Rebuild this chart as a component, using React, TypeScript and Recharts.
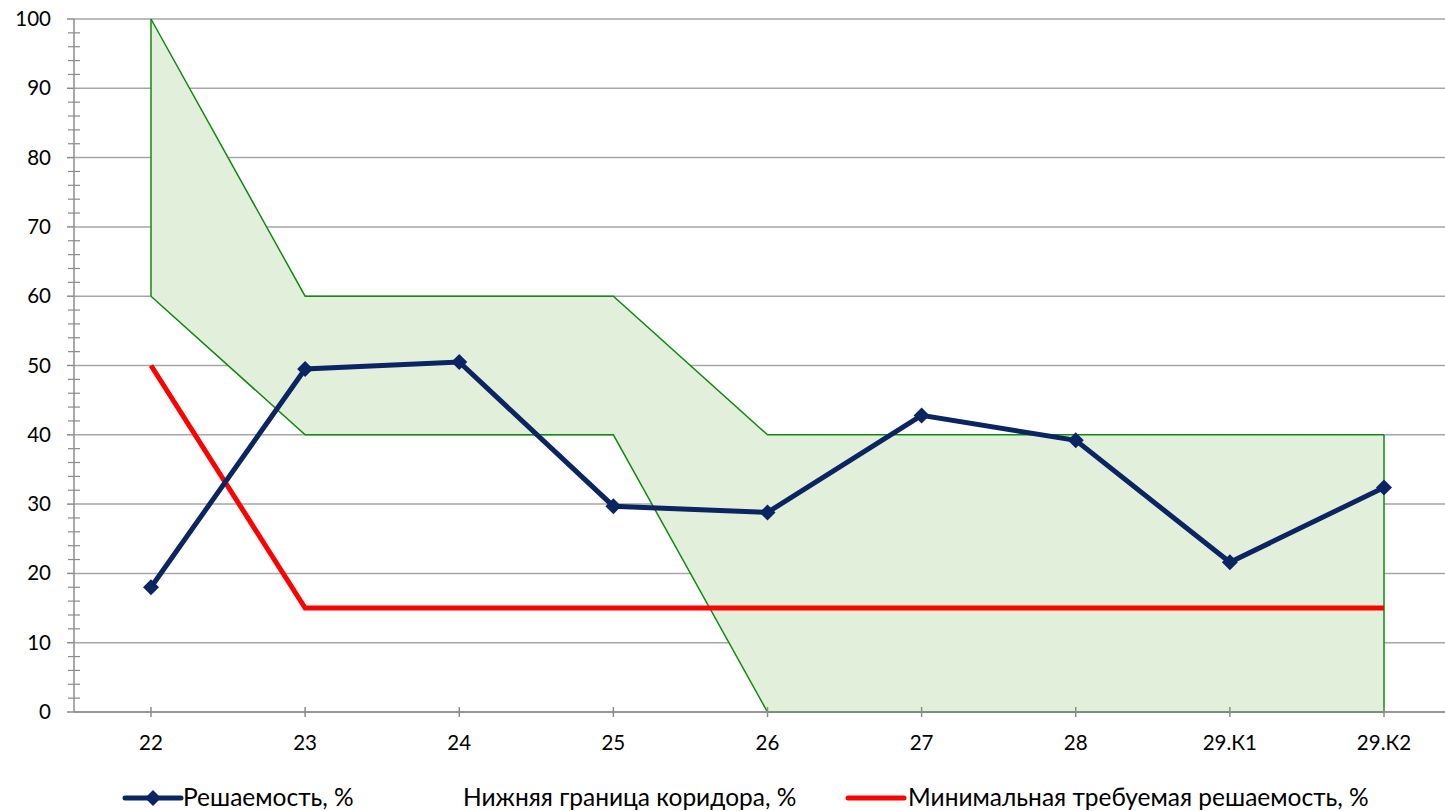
import {
  ComposedChart,
  Area,
  Line,
  XAxis,
  YAxis,
  CartesianGrid,
  ReferenceLine,
} from "recharts";

const categories = ["22", "23", "24", "25", "26", "27", "28", "29.К1", "29.К2"];
const solvedPct = [18.0, 49.5, 50.5, 29.7, 28.8, 42.8, 39.2, 21.6, 32.4];
const corridorLow = [60, 40, 40, 40, 0, 0, 0, 0, 0];
const corridorHigh = [100, 60, 60, 60, 40, 40, 40, 40, 40];
const minRequired = [50, 15, 15, 15, 15, 15, 15, 15, 15];
const majorTicks = [0, 10, 20, 30, 40, 50, 60, 70, 80, 90, 100];
const minorTicks = Array.from({ length: 51 }, (_, i) => i * 2);

const NAVY = "#0b2462";
const RED = "#ff0000";
const GREEN = "#118a11";
const FILL = "#e2efda";
const AXIS = "#8c8c8c";
const FONT = "Lato, 'Noto Sans', sans-serif";

const data = categories.map((name, i) => ({
  name,
  solved: solvedPct[i],
  low: corridorLow[i],
  high: corridorHigh[i],
  min: minRequired[i],
}));

const Diamond = ({ cx, cy }: { cx?: number; cy?: number }) => {
  if (cx == null || cy == null) return null;
  const r = 8;
  return <polygon points={`${cx},${cy - r} ${cx + r},${cy} ${cx},${cy + r} ${cx - r},${cy}`} fill={NAVY} />;
};

const YTick = ({ x = 0, y = 0, payload }: { x?: number; y?: number; payload?: { value: number } }) => {
  const v = payload?.value ?? 0;
  if (v % 10 === 0) {
    return (
      <g>
        <line x1={x - 7} x2={x} y1={y} y2={y} stroke={AXIS} strokeWidth={1.5} />
        <text x={x - 23} y={y + 7} textAnchor="end" fontSize={20.5} fontFamily={FONT} fill="#000">
          {v}
        </text>
      </g>
    );
  }
  return <line x1={x - 6} x2={x + 6} y1={y} y2={y} stroke={AXIS} strokeWidth={1.2} />;
};

const XTick = ({ x = 0, y = 0, payload }: { x?: number; y?: number; payload?: { value: string } }) => (
  <g>
    <line x1={x} x2={x} y1={y - 5} y2={y + 5} stroke={AXIS} strokeWidth={1.5} />
    <text x={x} y={y + 38} textAnchor="middle" fontSize={20.5} fontFamily={FONT} fill="#000">
      {payload?.value}
    </text>
  </g>
);

const legendText = { position: "absolute" as const, top: 782, fontSize: 24.5, fontFamily: FONT, color: "#000", whiteSpace: "nowrap" as const, lineHeight: "30px" };

const ChartLegend = () => (
  <>
    <svg style={{ position: "absolute", left: 120, top: 788 }} width={66} height={20}>
      <line x1={5} x2={61} y1={10} y2={10} stroke={NAVY} strokeWidth={5} strokeLinecap="round" />
      <polygon points="33,2 41,10 33,18 25,10" fill={NAVY} />
    </svg>
    <span style={{ ...legendText, left: 183 }}>Решаемость, %</span>
    <span style={{ ...legendText, left: 463 }}>Нижняя граница коридора, %</span>
    <svg style={{ position: "absolute", left: 843, top: 788 }} width={66} height={20}>
      <line x1={5} x2={61} y1={10} y2={10} stroke={RED} strokeWidth={5} strokeLinecap="round" />
    </svg>
    <span style={{ ...legendText, left: 908 }}>Минимальная требуемая решаемость, %</span>
  </>
);

export default function App() {
  const first = data[0];
  const last = data[data.length - 1];
  return (
    <div style={{ position: "fixed", left: 0, top: 0, width: 1445, height: 811, overflow: "hidden", background: "#fff" }}>
      <ComposedChart width={1470} height={811} data={data} margin={{ top: 19, right: 9, bottom: 0, left: 0 }}>
        <CartesianGrid vertical={false} horizontalValues={majorTicks} stroke="#a6a6a6" strokeWidth={1.5} />
        <Area
          type="linear"
          dataKey={(d: { low: number; high: number }) => [d.low, d.high]}
          stroke={GREEN}
          strokeWidth={1.5}
          fill={FILL}
          fillOpacity={1}
          isAnimationActive={false}
          activeDot={false}
        />
        <ReferenceLine segment={[{ x: first.name, y: first.low }, { x: first.name, y: first.high }]} stroke={GREEN} strokeWidth={1.5} />
        <ReferenceLine segment={[{ x: last.name, y: last.low }, { x: last.name, y: last.high }]} stroke={GREEN} strokeWidth={1.5} />
        <XAxis
          dataKey="name"
          padding={{ left: 77, right: 77 }}
          height={99}
          tickSize={0}
          tickMargin={0}
          tick={<XTick />}
          interval={0}
          stroke={AXIS}
          strokeWidth={1.5}
        />
        <YAxis
          domain={[0, 100]}
          ticks={minorTicks}
          interval={0}
          width={74}
          tickSize={0}
          tickMargin={0}
          tick={<YTick />}
          stroke={AXIS}
          strokeWidth={1.5}
        />
        <Line type="linear" dataKey="min" stroke={RED} strokeWidth={5} dot={false} isAnimationActive={false} />
        <Line type="linear" dataKey="solved" stroke={NAVY} strokeWidth={5} dot={<Diamond />} isAnimationActive={false} />
      </ComposedChart>
      <ChartLegend />
    </div>
  );
}
